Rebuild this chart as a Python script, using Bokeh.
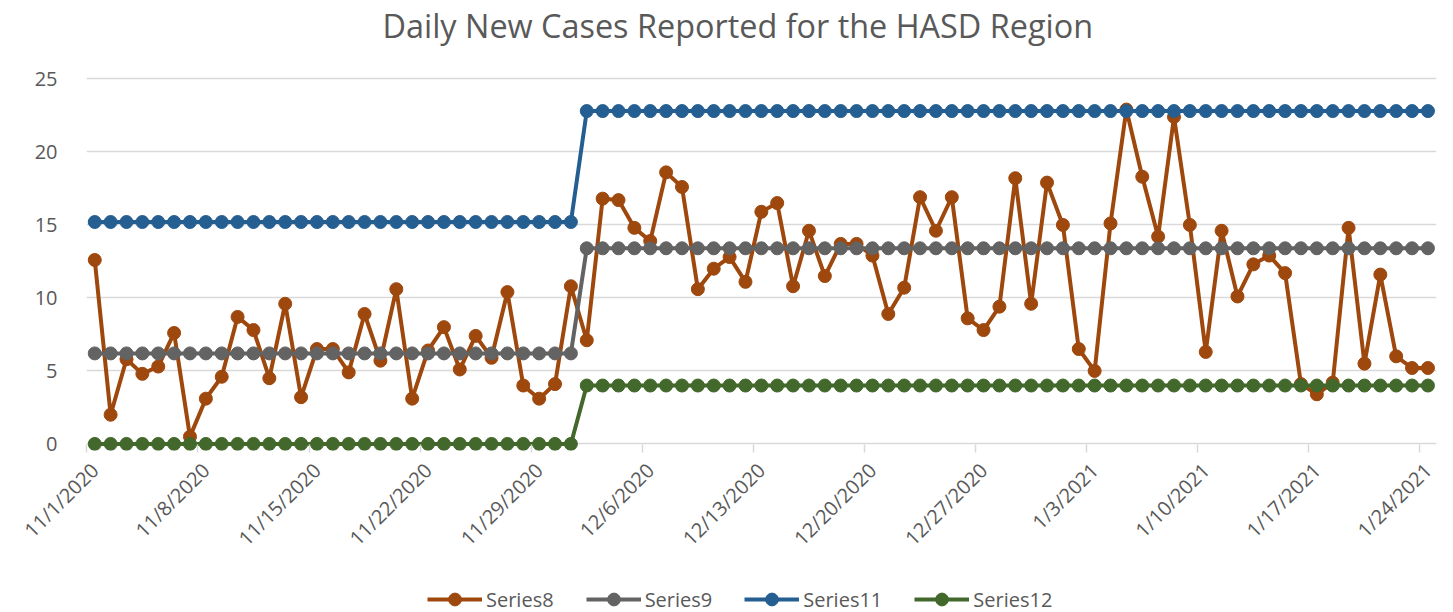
from math import pi
import pandas as pd
from bokeh.plotting import figure
from bokeh.layouts import column
from bokeh.models import Range1d, FixedTicker, Legend, LegendItem, Label
from bokeh.embed import file_html
from bokeh.resources import INLINE

# ---------------- data ----------------
dates = [d.strftime("%-m/%-d/%Y") for d in pd.date_range("2020-11-01", "2021-01-24")]

series8 = [12.6, 2.0, 5.8, 4.8, 5.3, 7.6, 0.5, 3.1, 4.6, 8.7,
           7.8, 4.5, 9.6, 3.2, 6.5, 6.5, 4.9, 8.9, 5.7, 10.6,
           3.1, 6.4, 8.0, 5.1, 7.4, 5.9, 10.4, 4.0, 3.1, 4.1,
           10.8, 7.1, 16.8, 16.7, 14.8, 13.9, 18.6, 17.6, 10.6, 12.0,
           12.8, 11.1, 15.9, 16.5, 10.8, 14.6, 11.5, 13.7, 13.7, 12.9,
           8.9, 10.7, 16.9, 14.6, 16.9, 8.6, 7.8, 9.4, 18.2, 9.6,
           17.9, 15.0, 6.5, 5.0, 15.1, 22.9, 18.3, 14.2, 22.4, 15.0,
           6.3, 14.6, 10.1, 12.3, 12.9, 11.7, 4.1, 3.4, 4.2, 14.8,
           5.5, 11.6, 6.0, 5.2, 5.2]
series9 = [6.2] * 31 + [13.4] * 54
series11 = [15.2] * 31 + [22.8] * 54
series12 = [0.0] * 31 + [4.0] * 54

tick_labels = ["11/1/2020", "11/8/2020", "11/15/2020", "11/22/2020", "11/29/2020",
               "12/6/2020", "12/13/2020", "12/20/2020", "12/27/2020", "1/3/2021",
               "1/10/2021", "1/17/2021", "1/24/2021"]
y_ticks = [0, 5, 10, 15, 20, 25]
title_text = "Daily New Cases Reported for the HASD Region"

series_names = ["Series8", "Series9", "Series11", "Series12"]
series_values = [series8, series9, series11, series12]
series_colors = ["#9E480E", "#636363", "#255E91", "#43682B"]

FONT = "Open Sans"
TEXT_COLOR = "#595959"

# ---------------- main figure ----------------
W, H_MAIN, H_LEG = 1453, 572, 40
BORDER_L, BORDER_R, BORDER_T, BORDER_B = 86, 17, 2, 122
x = list(range(len(dates)))
tick_pos = [dates.index(t) for t in tick_labels]

frame_h = H_MAIN - BORDER_T - BORDER_B
px_per_unit = 14.6
y_bottom = -0.45
y_top = y_bottom + frame_h / px_per_unit

p = figure(width=W, height=H_MAIN,
           x_range=Range1d(-0.52, len(dates) - 0.46),
           y_range=Range1d(y_bottom, y_top),
           output_backend="svg", toolbar_location=None,
           min_border_left=BORDER_L, min_border_right=BORDER_R,
           min_border_top=BORDER_T, min_border_bottom=BORDER_B)

p.outline_line_color = None
p.background_fill_color = "white"
p.border_fill_color = "white"

# chart title, drawn inside the (white) top of the frame
p.add_layout(Label(x=296, y=frame_h - 22, x_units="screen", y_units="screen",
                   text=title_text, text_font=FONT, text_font_size="32.4px",
                   text_color=TEXT_COLOR, text_align="left", text_baseline="alphabetic"))

# y axis
p.yaxis.ticker = FixedTicker(ticks=y_ticks)
p.yaxis.axis_line_color = None
p.yaxis.major_tick_line_color = None
p.yaxis.minor_tick_line_color = None
p.yaxis.major_label_text_color = TEXT_COLOR
p.yaxis.major_label_text_font = FONT
p.yaxis.major_label_text_font_size = "20px"
p.yaxis.major_label_standoff = 23

p.ygrid.grid_line_color = "#d9d9d9"
p.ygrid.grid_line_width = 1.5
p.xgrid.visible = False

# x axis
p.xaxis.ticker = FixedTicker(ticks=tick_pos, minor_ticks=[t - 0.5 for t in tick_pos])
p.xaxis.major_label_overrides = {pos: lab for pos, lab in zip(tick_pos, tick_labels)}
p.xaxis.axis_line_color = None
p.xaxis.major_tick_line_color = None
p.xaxis.major_tick_in = 0
p.xaxis.major_tick_out = 0
p.xaxis.minor_tick_line_color = "#d9d9d9"
p.xaxis.minor_tick_line_width = 1.5
p.xaxis.minor_tick_in = 6
p.xaxis.minor_tick_out = 2
p.xaxis.major_label_orientation = pi / 4
p.xaxis.major_label_text_color = TEXT_COLOR
p.xaxis.major_label_text_font = FONT
p.xaxis.major_label_text_font_size = "20px"
p.xaxis.major_label_standoff = 14

for vals, color in zip(series_values, series_colors):
    p.line(x, vals, line_color=color, line_width=4, line_join="round")
    p.scatter(x, vals, size=13, fill_color=color, line_color=color)

# ---------------- legend strip (bottom) ----------------
# same series, but the strip's x range lies outside the data, so only the legend shows
lg = figure(width=W, height=H_LEG, x_range=Range1d(-3, -2), y_range=Range1d(0, 1),
            x_axis_location=None, y_axis_location=None,
            output_backend="svg", toolbar_location=None,
            min_border_left=BORDER_L, min_border_right=BORDER_R,
            min_border_top=0, min_border_bottom=0)
lg.outline_line_color = None
lg.grid.visible = False

items = []
for name, vals, color in zip(series_names, series_values, series_colors):
    r_line = lg.line(x, vals, line_color=color, line_width=4)
    r_pts = lg.scatter(x, vals, size=13, fill_color=color, line_color=color)
    items.append(LegendItem(label=name, renderers=[r_line, r_pts]))

legend = Legend(items=items, orientation="horizontal", location=(427 - BORDER_L, -3),
                label_text_font=FONT, label_text_font_size="20px",
                label_text_color=TEXT_COLOR, glyph_width=55, glyph_height=32,
                spacing=32, label_standoff=4, padding=0, margin=0,
                border_line_color=None, background_fill_alpha=0)
lg.add_layout(legend)

layout = column(p, lg, spacing=0)
open("out.html", "w").write(file_html(layout, INLINE))
